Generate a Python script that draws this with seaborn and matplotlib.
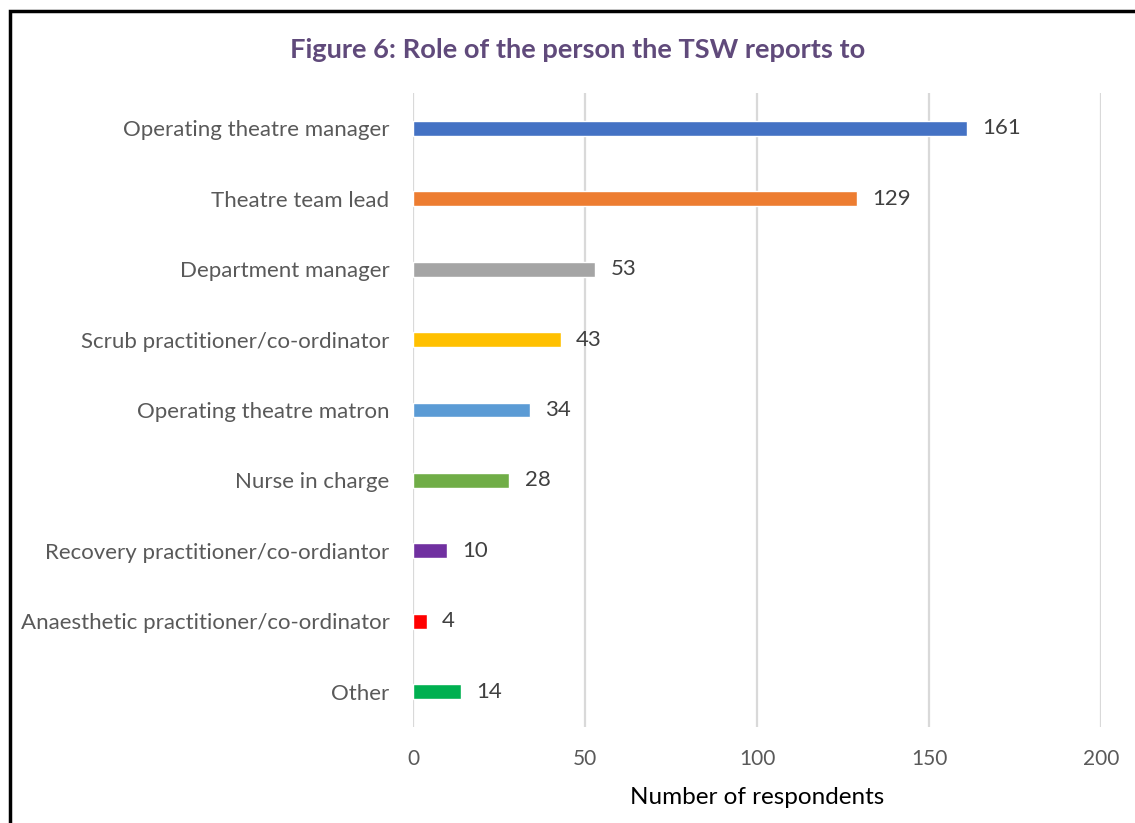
import matplotlib
matplotlib.use("Agg")
import matplotlib.pyplot as plt
import seaborn as sns
import pandas as pd
from matplotlib.patches import Rectangle

categories = [
    "Operating theatre manager",
    "Theatre team lead",
    "Department manager",
    "Scrub practitioner/co-ordinator",
    "Operating theatre matron",
    "Nurse in charge",
    "Recovery practitioner/co-ordiantor",
    "Anaesthetic practitioner/co-ordinator",
    "Other",
]
values = [161, 129, 53, 43, 34, 28, 10, 4, 14]
colors = ["#4472C4", "#ED7D31", "#A5A5A5", "#FFC000", "#5B9BD5",
          "#70AD47", "#7030A0", "#FF0000", "#00B050"]
x_ticks = [0, 50, 100, 150, 200]

sns.set_style("white")
plt.rcParams["font.family"] = ["Lato", "DejaVu Sans"]

df = pd.DataFrame({"role": categories, "count": values})

fig = plt.figure(figsize=(11.35, 8.23), dpi=100)
ax = fig.add_axes([413/1135, 1-727/823, (1101-413)/1135, (727-93)/823])

sns.barplot(data=df, y="role", x="count", hue="role", order=categories,
            hue_order=categories, palette=colors, orient="h", width=0.21,
            dodge=False, legend=False, ax=ax, saturation=1)

ax.set_xlim(0, 200)
ax.set_ylim(len(categories) - 0.5, -0.5)
ax.set_xticks(x_ticks)
ax.grid(axis="x", color="#D9D9D9", linewidth=1.6)
ax.set_axisbelow(True)
for s in ax.spines.values():
    s.set_visible(False)
ax.tick_params(axis="x", length=0, labelsize=15, labelcolor="#595959", pad=16)
ax.tick_params(axis="y", length=0, labelsize=16, labelcolor="#595959", pad=17)
ax.set_ylabel("")
ax.set_xlabel("Number of respondents", fontsize=17.5, color="#000000", labelpad=13)

for i, v in enumerate(values):
    ax.annotate(str(v), xy=(v, i), xytext=(11, 0), textcoords="offset points",
                va="center", ha="left", fontsize=16, color="#404040")

fig.text(578/1135, 1-50/823, "Figure 6: Role of the person the TSW reports to",
         ha="center", va="center", fontsize=19.6, fontweight="bold", color="#604A7B")

fig.patches.append(Rectangle((9.5/1135, -0.1), 1.2, 1-11/823 + 0.1,
                             transform=fig.transFigure, fill=False,
                             edgecolor="black", linewidth=2.5, figure=fig))

fig.savefig("out.png", dpi=100)
